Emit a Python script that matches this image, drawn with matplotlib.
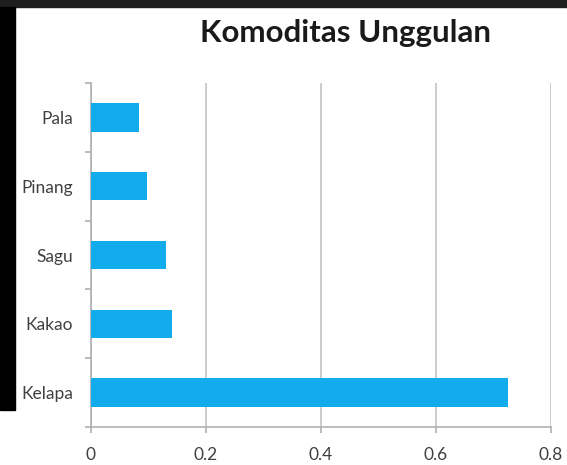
import matplotlib.pyplot as plt
from matplotlib.patches import Rectangle

# commodity scores, bottom to top
commodities = ['Kelapa', 'Kakao', 'Sagu', 'Pinang', 'Pala']
scores = [0.725, 0.141, 0.131, 0.097, 0.083]
xticks = [0, 0.2, 0.4, 0.6, 0.8]
xticklabels = ['0', '0.2', '0.4', '0.6', '0.8']

plt.rcParams['font.family'] = ['Lato', 'DejaVu Sans']

fig = plt.figure(figsize=(5.67, 4.65), dpi=100, facecolor='white')

# dark frame along the top and left edges
fig.patches.append(Rectangle((0, 1 - 7 / 465), 1, 7 / 465, transform=fig.transFigure,
                             color='#1e1e1e', zorder=0))
fig.patches.append(Rectangle((0, 1 - 410 / 465), 15 / 567, 403 / 465, transform=fig.transFigure,
                             color='#000000', zorder=0))

ax = fig.add_axes([91 / 567, 1 - 427 / 465, 460 / 567, 344 / 465])
pos = list(range(len(commodities)))
ax.barh(pos, scores, height=0.41, color='#12acec', zorder=3)

ax.set_xlim(0, 0.8)
ax.set_ylim(-0.5, len(commodities) - 0.5)
ax.set_xticks(xticks)
ax.set_xticklabels(xticklabels)
ax.set_yticks(pos)
ax.set_yticklabels(commodities)
ax.set_yticks([p - 0.5 for p in pos] + [len(pos) - 0.5], minor=True)

ax.grid(axis='x', color='#c4c4c4', linewidth=1.2, zorder=0)
for side in ['top', 'right']:
    ax.spines[side].set_visible(False)
for side in ['left', 'bottom']:
    ax.spines[side].set_color('#b0b0b0')
    ax.spines[side].set_linewidth(1.2)

ax.tick_params(axis='y', which='major', length=0, pad=13, labelsize=12.5, labelcolor='#404040')
ax.tick_params(axis='y', which='minor', length=4.5, width=1.2, color='#b0b0b0')
ax.tick_params(axis='x', length=4.5, width=1.2, color='#b0b0b0', pad=10,
               labelsize=12.5, labelcolor='#404040')

fig.text(346 / 567, 1 - 33 / 465, 'Komoditas Unggulan', ha='center', va='center',
         fontsize=22.5, fontweight='bold', color='#1a1a1a')

plt.savefig('out.png', dpi=100)
